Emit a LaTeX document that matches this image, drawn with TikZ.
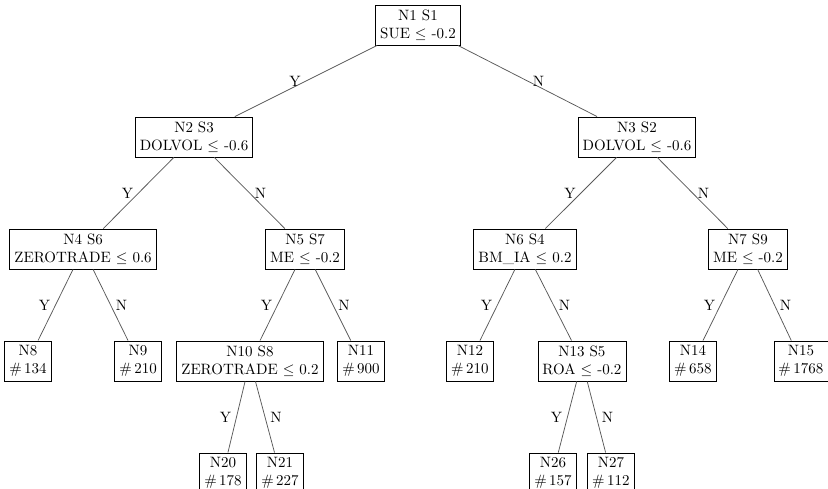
\documentclass[tikz,border=0pt]{standalone}
\usepackage{amsmath}
\usepackage{amssymb}
\usepackage{tikz}
\usetikzlibrary{positioning}

\begin{document}
\begin{tikzpicture}[node distance=74.67pt]
	    \tikzstyle{split}=[draw=black, line width=0.55pt, rectangle, align=center, inner sep=3pt, minimum height=26.7pt]
	    \tikzstyle{branch}=[draw=black!65, line width=0.5pt]
	    \useasboundingbox (-278.67pt,16.67pt) rectangle (273.33pt,-308.67pt);
	    
	    \node[split] (n1) {N1 S1 \\ SUE $\leq$ -0.2};
	    \node[split] (n2) [below of=n1, xshift=-149.3pt] {N2 S3 \\ DOLVOL $\leq$ -0.6};
	    \node[split] (n3) [below of=n1, xshift=146pt] {N3 S2 \\ DOLVOL $\leq$ -0.6};
	    \node[split] (n4) [below of=n2, xshift=-74pt] {N4 S6 \\ ZEROTRADE $\leq$ 0.6};
	    \node[split] (n5) [below of=n2, xshift=74pt] {N5 S7 \\ ME $\leq$ -0.2};
	    \node[split] (n6) [below of=n3, xshift=-74.7pt] {N6 S4 \\ BM\_IA $\leq$ 0.2};
	    \node[split] (n7) [below of=n3, xshift=74pt] {N7 S9 \\ ME $\leq$ -0.2};
	    \node[split] (n8) [below of=n4, xshift=-36.7pt] {N8 \\ \#\,134};
	    \node[split] (n9) [below of=n4, xshift=36.7pt] {N9 \\ \#\,210};
	    \node[split] (n10) [below of=n5, xshift=-36.7pt] {N10 S8 \\ ZEROTRADE $\leq$ 0.2};
	    \node[split] (n11) [below of=n5, xshift=37.3pt] {N11 \\ \#\,900};
	    \node[split] (n12) [below of=n6, xshift=-36.7pt] {N12 \\ \#\,210};
	    \node[split] (n13) [below of=n6, xshift=38pt] {N13 S5 \\ ROA $\leq$ -0.2};
	    \node[split] (n14) [below of=n7, xshift=-36.7pt] {N14 \\ \#\,658};
	    \node[split] (n15) [below of=n7, xshift=35.3pt] {N15 \\ \#\,1768};
	    \node[split] (n20) [below of=n10, xshift=-18pt] {N20 \\ \#\,178};
	    \node[split] (n21) [below of=n10, xshift=20pt] {N21 \\ \#\,227};
	    \node[split] (n26) [below of=n13, xshift=-19.3pt] {N26 \\ \#\,157};
	    \node[split] (n27) [below of=n13, xshift=19.3pt] {N27 \\ \#\,112};
	    
	    \path[branch]
	    (n1)	edge	node [left]	{Y} (n2)
	    (n1)	edge	node [right]	{N} (n3)
	    
	    (n2)	edge	node [left]	{Y} (n4)
	    (n2)	edge	node [right]	{N} (n5)
	    (n3)	edge	node [left]	{Y} (n6)
	    (n3)	edge	node [right]	{N} (n7)
	    
	    (n4)	edge	node [left]	{Y} (n8)
	    (n4)	edge	node [right]	{N} (n9)
	    (n5)	edge	node [left]	{Y} (n10)
	    (n5)	edge	node [right]	{N} (n11)
	    (n6)	edge	node [left]	{Y} (n12)
	    (n6)	edge	node [right]	{N} (n13)
	    (n7)	edge	node [left]	{Y} (n14)
	    (n7)	edge	node [right]	{N} (n15)
	    
	    (n10)	edge	node [left]	{Y} (n20)
	    (n10)	edge	node [right]	{N} (n21)
	    (n13)	edge	node [left]	{Y} (n26)
	    (n13)	edge	node [right]	{N} (n27)
	    ;
    
\end{tikzpicture}
\end{document}
